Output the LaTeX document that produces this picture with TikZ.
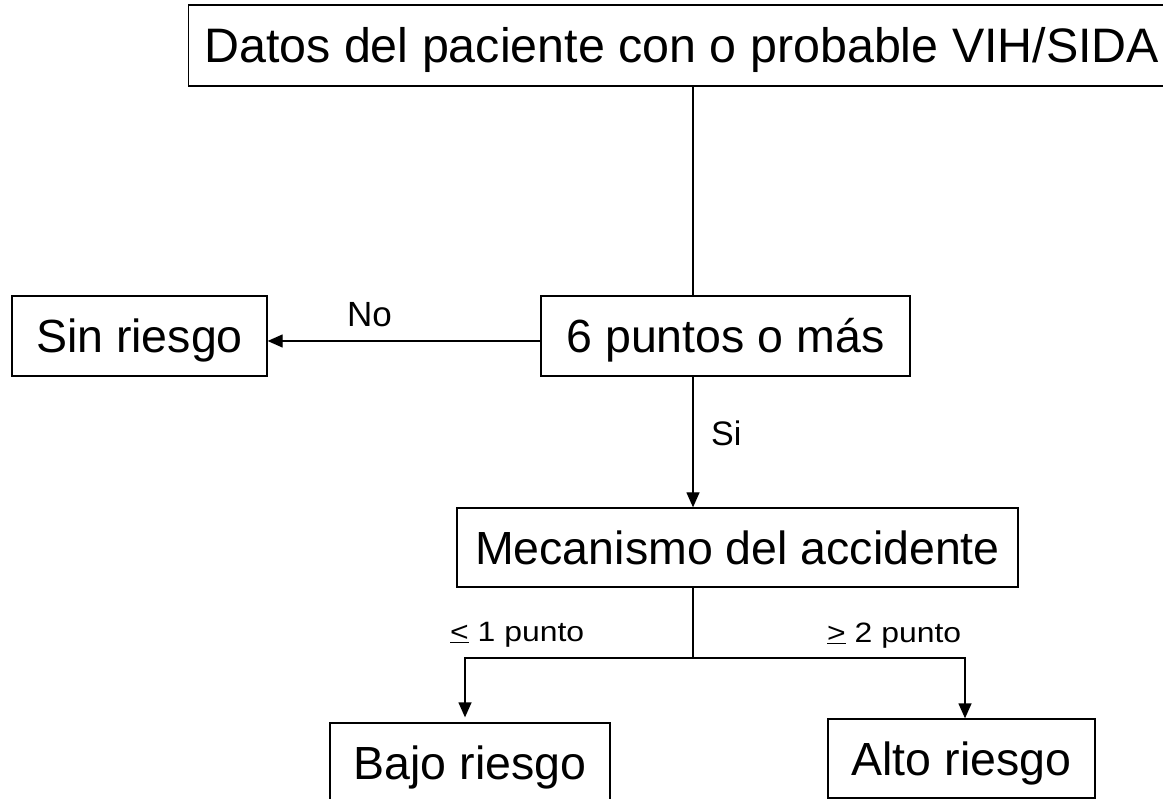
\documentclass[tikz,border=0pt]{standalone}
\usepackage{fontspec}
\setmainfont{Liberation Sans}
\newfontfamily\widefont[FakeStretch=1.14]{Liberation Sans}
\usetikzlibrary{arrows.meta,calc}
\begin{document}
\begin{tikzpicture}[x=1pt,y=-1pt,
 box/.style={draw, line width=1.3pt, inner sep=0pt, text height=33.5pt, text depth=0pt, font=\fontsize{46.5}{50}\selectfont},
 plainbox/.style={draw, line width=1.3pt, inner sep=0pt},
 conn/.style={line width=1.3pt},
 arr/.style={conn, -{Triangle[length=15pt,width=13pt]}},
 lbl/.style={inner sep=0pt, anchor=base west, font=\fontsize{35}{40}\selectfont},
 slbl/.style={inner sep=0pt, anchor=base west, font=\widefont\fontsize{28}{32}\selectfont}]
\useasboundingbox (0,0) rectangle (1163,799);
% boxes
\node[plainbox, anchor=west, minimum width=992pt, minimum height=81pt] (top) at (188,45.5) {};
\node[inner sep=0pt, anchor=base west, font=\fontsize{48.4}{52}\selectfont] (toptext) at (204,63) {Datos del paciente con o probable VIH/SIDA};
\node[box, minimum width=255pt, minimum height=80pt] (sin) at (139.5,336) {Sin riesgo};
\node[box, minimum width=369pt, minimum height=80pt] (six) at (725.5,336) {6 puntos o más};
\node[box, minimum width=561pt, minimum height=79pt] (mec) at (737.5,547.5) {Mecanismo del accidente};
\node[box, minimum width=280pt, minimum height=80pt] (bajo) at (470,763) {Bajo riesgo};
\node[box, minimum width=267pt, minimum height=79pt] (alto) at (961.5,758.5) {Alto riesgo};
% coordinates
\coordinate (spine) at (693,0);
\coordinate (bl) at (465,658);
\coordinate (br) at (965,658);
% connectors
\draw[conn] (spine |- top.south) -- (spine |- six.north);
\draw[arr] ([yshift=-5pt]six.west) -- ([yshift=-5pt]sin.east);
\draw[arr] (spine |- six.south) -- (spine |- mec.north);
\draw[conn] (spine |- mec.south) -- (spine |- bl);
\draw[arr, shorten >=5pt] (spine |- bl) -- (bl) -- (bl |- bajo.north);
\draw[arr] (spine |- br) -- (br) -- (br |- alto.north);
% labels
\node[lbl] (no) at (347,327) {No};
\node[lbl, font=\fontsize{34}{38}\selectfont] (si) at (711,446) {Si};
\node[slbl] (le) at (450,641) {\underline{<} 1 punto};
\node[slbl] (ge) at (827,642) {\underline{>} 2 punto};
\end{tikzpicture}
\end{document}
